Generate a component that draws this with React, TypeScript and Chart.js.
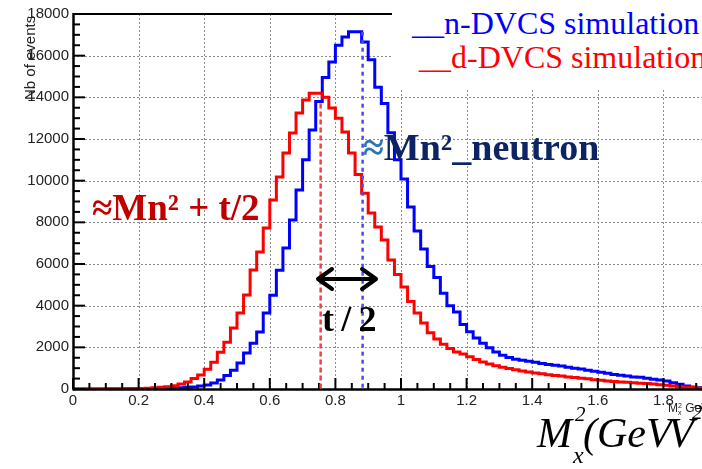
import React, { useEffect, useRef } from 'react';
import { Chart, registerables } from 'chart.js';

Chart.register(...registerables);

// ---------------- data ----------------
const BIN_WIDTH = 0.02;
const X_START = 0;

// n-DVCS simulation (blue), counts per bin of 0.02 GeV^2, from 0 to 2
const N_DVCS_COUNTS = [
  0, 0, 0, 0, 0, 0, 0, 0, 0, 0,
  5, 10, 15, 20, 30, 40, 50, 60, 80, 100,
  140, 190, 290, 430, 650, 900, 1250, 1730, 2200, 2740,
  3650, 4500, 5700, 6770, 8110, 9550, 11000, 12430, 13800, 14950,
  15700, 16500, 16900, 17150, 17150, 16660, 15800, 14480, 13700, 12300,
  11000, 10080, 8740, 7580, 6720, 5880, 5350, 4600, 4000, 3700,
  3100, 2750, 2450, 2200, 1980, 1780, 1620, 1510, 1430, 1380,
  1330, 1280, 1230, 1180, 1140, 1100, 1050, 1000, 960, 900,
  850, 800, 760, 700, 660, 620, 580, 560, 520, 470,
  430, 380, 300, 230, 150, 100, 60, 30, 10, 0,
];

// d-DVCS simulation (red)
const D_DVCS_COUNTS = [
  0, 0, 0, 0, 5, 5, 10, 10, 15, 20,
  25, 30, 40, 60, 80, 110, 160, 240, 340, 500,
  670, 950, 1280, 1760, 2240, 2930, 3650, 4510, 5710, 6580,
  7730, 9070, 10180, 11330, 12290, 13250, 13870, 14200, 14200, 14000,
  13490, 13000, 12340, 11330, 10300, 9400, 8450, 7780, 7150, 6190,
  5500, 4900, 4200, 3650, 3170, 2700, 2400, 2150, 1950, 1780,
  1680, 1550, 1420, 1300, 1200, 1120, 1040, 980, 920, 870,
  820, 770, 730, 690, 650, 620, 580, 550, 520, 490,
  450, 420, 390, 360, 340, 320, 300, 280, 260, 240,
  200, 180, 150, 110, 90, 70, 50, 35, 20, 10,
];

const X_TICKS = [0, 0.2, 0.4, 0.6, 0.8, 1, 1.2, 1.4, 1.6, 1.8, 2];
const X_TICK_LABELS = ['0', '0.2', '0.4', '0.6', '0.8', '1', '1.2', '1.4', '1.6', '1.8', '2'];
const Y_TICKS = [0, 2000, 4000, 6000, 8000, 10000, 12000, 14000, 16000, 18000];
const Y_TICK_LABELS = ['0', '2000', '4000', '6000', '8000', '10000', '12000', '14000', '16000', '18000'];

// peak markers (dashed verticals): x position and top value
const MARKER_X = [0.755, 0.883];
const MARKER_TOP = [13700, 17150];
// double arrow t/2 between the peaks
const ARROW_X = [0.744, 0.927];
const ARROW_Y = [5280];

// ---------------- styles ----------------
const SERIF = "'Liberation Serif', 'Times New Roman', serif";
const SANS = "'Liberation Sans', Arial, sans-serif";
const BLUE = '#0000ff';
const RED = '#ff0000';

function toPoints(vals: number[]) {
  const pts = vals.map((v, i) => ({ x: X_START + i * BIN_WIDTH, y: v }));
  pts.push({ x: X_START + vals.length * BIN_WIDTH, y: vals[vals.length - 1] });
  return pts;
}

function seg(ctx: CanvasRenderingContext2D, x1: number, y1: number, x2: number, y2: number) {
  ctx.beginPath();
  ctx.moveTo(x1, y1);
  ctx.lineTo(x2, y2);
  ctx.stroke();
}

function drawGrid(chart: any) {
  const { ctx, chartArea: a, scales } = chart;
  const x = scales.x;
  const y = scales.y;
  ctx.save();
  ctx.strokeStyle = '#8c8c8c';
  ctx.lineWidth = 1;
  ctx.setLineDash([2, 2]);
  X_TICKS.forEach((v) => {
    if (v <= 0) return;
    const px = Math.round(x.getPixelForValue(v)) + 0.5;
    seg(ctx, px, a.top, px, a.bottom);
  });
  Y_TICKS.forEach((v) => {
    if (v <= 0) return;
    const py = Math.round(y.getPixelForValue(v)) + 0.5;
    seg(ctx, a.left, py, a.right, py);
  });
  ctx.restore();
}

function drawFrame(chart: any) {
  const { ctx, chartArea: a, scales } = chart;
  const x = scales.x;
  const y = scales.y;
  ctx.save();
  ctx.setLineDash([]);
  ctx.strokeStyle = '#000000';
  ctx.lineWidth = 2;
  for (let k = 0; k <= 36; k++) {
    const py = y.getPixelForValue(k * 500);
    const len = k % 4 === 0 ? 12 : 7;
    seg(ctx, a.left, py, a.left + len, py);
  }
  for (let k = 0; k <= 40; k++) {
    const px = x.getPixelForValue(k * 0.05);
    const len = k % 4 === 0 ? 11 : 6;
    seg(ctx, px, a.bottom, px, a.bottom - len);
  }
  ctx.lineWidth = 2.5;
  seg(ctx, a.left + 0.5, a.top - 1, a.left + 0.5, a.bottom + 1.5);
  seg(ctx, a.left, a.bottom + 0.5, a.right, a.bottom + 0.5);
  ctx.lineWidth = 2;
  seg(ctx, a.left, a.top, a.right, a.top);
  ctx.restore();
}

function drawAnnotations(chart: any) {
  const { ctx, scales } = chart;
  const x = scales.x;
  const y = scales.y;
  ctx.save();
  const markerColors = ['#ff3c3c', '#4a4aff'];
  const markerDash = [[5, 3], [4, 4]];
  MARKER_X.forEach((mx, i) => {
    ctx.strokeStyle = markerColors[i];
    ctx.lineWidth = 2.5;
    ctx.setLineDash(markerDash[i]);
    const px = x.getPixelForValue(mx);
    seg(ctx, px, y.getPixelForValue(MARKER_TOP[i]), px, y.getPixelForValue(0));
  });
  ctx.setLineDash([]);
  const x1 = x.getPixelForValue(ARROW_X[0]);
  const x2 = x.getPixelForValue(ARROW_X[1]);
  const ay = y.getPixelForValue(ARROW_Y[0]);
  ctx.strokeStyle = '#000';
  ctx.lineWidth = 4;
  ctx.lineCap = 'round';
  ctx.lineJoin = 'round';
  seg(ctx, x1 + 2, ay, x2 - 2, ay);
  ctx.beginPath();
  ctx.moveTo(x1 + 15, ay - 10);
  ctx.lineTo(x1 + 1, ay);
  ctx.lineTo(x1 + 15, ay + 10);
  ctx.stroke();
  ctx.beginPath();
  ctx.moveTo(x2 - 15, ay - 10);
  ctx.lineTo(x2 - 1, ay);
  ctx.lineTo(x2 - 15, ay + 10);
  ctx.stroke();
  ctx.restore();
}

const rootFramePlugin = {
  id: 'rootFrame',
  beforeDatasetsDraw(chart: any) {
    drawGrid(chart);
  },
  afterDatasetsDraw(chart: any) {
    drawFrame(chart);
    drawAnnotations(chart);
  },
};

type TxtProps = {
  left: number;
  baseline: number;
  size: number;
  color?: string;
  weight?: any;
  italic?: boolean;
  family?: string;
  children: any;
};

function Txt({ left, baseline, size, color = '#000', weight = 'normal', italic = false, family = SERIF, children }: TxtProps) {
  const asc = family === SANS ? 0.8465 : 0.8375;
  return (
    <div
      style={{
        position: 'absolute',
        left,
        top: baseline - asc * size,
        fontFamily: family,
        fontSize: size,
        lineHeight: `${size}px`,
        fontWeight: weight,
        fontStyle: italic ? 'italic' : 'normal',
        color,
        whiteSpace: 'nowrap',
      }}
    >
      {children}
    </div>
  );
}

export default function App() {
  const canvasRef = useRef<HTMLCanvasElement | null>(null);

  useEffect(() => {
    const canvas = canvasRef.current;
    if (!canvas) return;
    const chart = new Chart(canvas, {
      type: 'line',
      data: {
        datasets: [
          {
            label: 'd-DVCS simulation',
            data: toPoints(D_DVCS_COUNTS),
            borderColor: RED,
            borderWidth: 3,
            stepped: 'after',
            pointRadius: 0,
            fill: false,
          },
          {
            label: 'n-DVCS simulation',
            data: toPoints(N_DVCS_COUNTS),
            borderColor: BLUE,
            borderWidth: 3,
            stepped: 'after',
            pointRadius: 0,
            fill: false,
          },
        ],
      },
      options: {
        responsive: false,
        animation: false,
        layout: { padding: { top: 14, right: 11, left: 0, bottom: 0 } },
        plugins: { legend: { display: false }, tooltip: { enabled: false } },
        scales: {
          x: {
            type: 'linear',
            min: 0,
            max: 2,
            afterFit: (s: any) => {
              s.height = 80;
            },
            afterBuildTicks: (s: any) => {
              s.ticks = X_TICKS.map((v) => ({ value: v }));
            },
            ticks: {
              autoSkip: false,
              maxRotation: 0,
              padding: 3,
              color: '#222',
              font: { family: SANS, size: 15 },
              callback: (_v: any, i: number) => X_TICK_LABELS[i],
            },
            grid: { display: false, drawTicks: false },
            border: { display: false },
          },
          y: {
            type: 'linear',
            min: 0,
            max: 18000,
            afterFit: (s: any) => {
              s.width = 73;
            },
            afterBuildTicks: (s: any) => {
              s.ticks = Y_TICKS.map((v) => ({ value: v }));
            },
            ticks: {
              autoSkip: false,
              padding: 4,
              color: '#222',
              font: { family: SANS, size: 15 },
              callback: (_v: any, i: number) => Y_TICK_LABELS[i],
            },
            grid: { display: false, drawTicks: false },
            border: { display: false },
          },
        },
      },
      plugins: [rootFramePlugin],
    } as any);
    return () => chart.destroy();
  }, []);

  return (
    <div
      style={{
        position: 'fixed',
        left: 0,
        top: 0,
        width: 702,
        height: 469,
        overflow: 'hidden',
        background: '#fff',
      }}
    >
      <canvas
        ref={canvasRef}
        width={740}
        height={469}
        style={{ position: 'absolute', left: 0, top: 0, width: 740, height: 469 }}
      />
      {/* y-axis title */}
      <div
        style={{
          position: 'absolute',
          left: 22,
          top: 100,
          transform: 'rotate(-90deg)',
          transformOrigin: 'left top',
          fontFamily: SANS,
          fontSize: 15,
          lineHeight: '16px',
          color: '#222',
          whiteSpace: 'nowrap',
        }}
      >
        Nb of events
      </div>
      {/* small x-axis title at axis end */}
      <div
        style={{
          position: 'absolute',
          left: 668,
          top: 398,
          fontFamily: SANS,
          fontSize: 12,
          lineHeight: '14px',
          color: '#222',
          whiteSpace: 'nowrap',
        }}
      >
        M
        <span style={{ display: 'inline-block', fontSize: 7, lineHeight: '7px', verticalAlign: 'middle' }}>
          2<br />x
        </span>{' '}
        GeV<sup style={{ fontSize: 7 }}>2</sup>
      </div>
      {/* legend box */}
      <div style={{ position: 'absolute', left: 392, top: 0, width: 320, height: 88, background: '#fff' }} />
      <Txt left={412} baseline={34} size={32} color={BLUE}>
        __n-DVCS simulation
      </Txt>
      <Txt left={419} baseline={68} size={32} color={RED}>
        __d-DVCS simulation
      </Txt>
      {/* peak labels */}
      <Txt left={92} baseline={220} size={37} weight="bold" color="#c00000">
        ≈Mn² + t/2
      </Txt>
      <Txt left={363} baseline={160} size={38} weight="bold" color="#0d2464">
        <span style={{ color: '#2e75b6' }}>≈</span>Mn²_neutron
      </Txt>
      <Txt left={322} baseline={331} size={36} weight="bold" color="#000">
        t{'\u2009'}/{'\u2009'}2
      </Txt>
      {/* big axis label */}
      <Txt left={537} baseline={447} size={42} italic color="#000">
        M
      </Txt>
      <Txt left={575} baseline={422} size={21} italic color="#000">
        2
      </Txt>
      <Txt left={573} baseline={463} size={24} italic color="#000">
        x
      </Txt>
      <Txt left={583} baseline={447} size={42} italic color="#000">
        (GeV
      </Txt>
      <Txt left={668} baseline={447} size={42} italic color="#000">
        V
      </Txt>
      <Txt left={692} baseline={420} size={21} italic color="#000">
        2
      </Txt>
    </div>
  );
}
